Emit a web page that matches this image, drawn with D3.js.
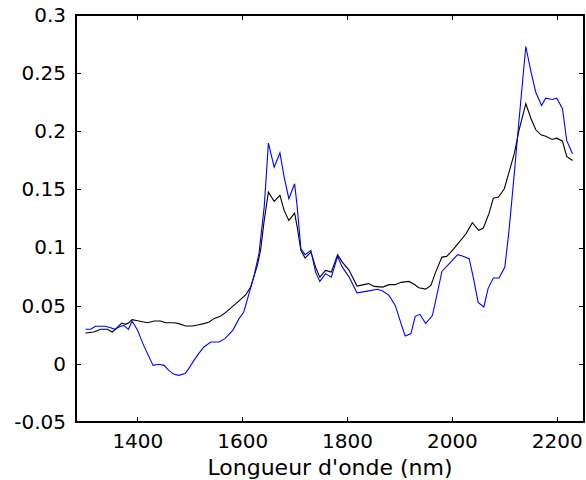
<!DOCTYPE html>
<meta charset="utf-8">
<style>
    body {
        margin: 0;
        background-color: #fff;
    }
    .axis text {
        font: 20px "DejaVu Sans", sans-serif;
        fill: #000;
    }
    .axis line {
        stroke: #000;
        stroke-width: 1px;
        shape-rendering: crispEdges;
    }
    .frame {
        fill: none;
        stroke: #000;
        stroke-width: 2px;
        shape-rendering: crispEdges;
    }
    .line {
        fill: none;
        stroke-width: 1.1px;
    }
    .x-label {
        font: 22px "DejaVu Sans", sans-serif;
        text-anchor: middle;
    }
</style>
<body>
<svg width="586" height="480"></svg>
<script src="https://d3js.org/d3.v7.min.js"></script>
<script>
    // wavelengths (nm) and values
    var blackWl = [1301, 1317, 1330, 1343, 1352, 1358, 1370, 1378, 1383, 1390, 1403, 1419, 1432, 1444, 1454, 1470,
        1479, 1492, 1505, 1517, 1527, 1537, 1546, 1559, 1568, 1588, 1607, 1616, 1622, 1629, 1635, 1642, 1650, 1661,
        1672, 1680, 1689, 1700, 1705, 1712, 1720, 1731, 1740, 1748, 1759, 1770, 1782, 1791, 1804, 1819, 1841, 1852,
        1868, 1880, 1892, 1903, 1918, 1928, 1937, 1950, 1960, 1969, 1981, 1990, 2001, 2014, 2027, 2039, 2051, 2060,
        2071, 2079, 2089, 2100, 2109, 2119, 2128, 2141, 2151, 2160, 2170, 2179, 2191, 2200, 2211, 2219, 2230];
    var blackVal = [0.0265, 0.0274, 0.0297, 0.0297, 0.0274, 0.0297, 0.0351, 0.034, 0.0351, 0.038, 0.0368, 0.0354,
        0.0368, 0.0368, 0.0354, 0.0354, 0.0346, 0.0325, 0.0325, 0.0337, 0.0346, 0.036, 0.0389, 0.0411, 0.044, 0.0518,
        0.0595, 0.066, 0.0746, 0.0847, 0.0976, 0.1234, 0.1477, 0.1397, 0.1449, 0.132, 0.1234, 0.1296, 0.1176, 0.0976,
        0.091, 0.0961, 0.0832, 0.0746, 0.0804, 0.0789, 0.0939, 0.0875, 0.0804, 0.0669, 0.069, 0.0666, 0.066, 0.0681,
        0.0681, 0.0701, 0.0709, 0.0684, 0.0655, 0.0643, 0.0675, 0.0789, 0.0918, 0.0924, 0.0976, 0.1047, 0.1119,
        0.1214, 0.1148, 0.1168, 0.1296, 0.1425, 0.1434, 0.1506, 0.1649, 0.1807, 0.2007, 0.2237, 0.2108, 0.2013,
        0.197, 0.1958, 0.193, 0.1941, 0.1915, 0.1784, 0.1749];

    var blueWl = [1301, 1311, 1320, 1339, 1349, 1357, 1368, 1374, 1383, 1390, 1400, 1412, 1430, 1441, 1451, 1460,
        1470, 1479, 1491, 1498, 1508, 1517, 1527, 1540, 1556, 1567, 1582, 1594, 1603, 1613, 1622, 1632, 1642, 1650,
        1661, 1672, 1680, 1689, 1700, 1705, 1712, 1720, 1731, 1740, 1748, 1759, 1770, 1782, 1791, 1804, 1819, 1836,
        1858, 1868, 1880, 1892, 1903, 1911, 1922, 1930, 1939, 1950, 1963, 1981, 1995, 2011, 2020, 2033, 2042, 2050,
        2061, 2069, 2079, 2090, 2101, 2109, 2119, 2128, 2135, 2141, 2151, 2160, 2171, 2179, 2191, 2200, 2211, 2219, 2230];
    var blueVal = [0.0297, 0.0297, 0.0323, 0.0323, 0.0311, 0.0297, 0.0323, 0.0331, 0.0297, 0.0368, 0.0294, 0.0159,
        -0.0013, -0.0004, -0.0013, -0.0056, -0.009, -0.0099, -0.0084, -0.0041, 0.003, 0.0088, 0.0145, 0.0188, 0.0188,
        0.0217, 0.0288, 0.0389, 0.0446, 0.0604, 0.0746, 0.0948, 0.1348, 0.1898, 0.1692, 0.1816, 0.1606, 0.142, 0.1549,
        0.1348, 0.099, 0.0939, 0.0976, 0.0789, 0.0709, 0.0776, 0.0746, 0.0924, 0.0832, 0.0746, 0.0611, 0.0623, 0.0641,
        0.0626, 0.0589, 0.0503, 0.0346, 0.0239, 0.026, 0.0409, 0.0426, 0.0346, 0.0417, 0.0795, 0.0862, 0.0939, 0.0927,
        0.0905, 0.0718, 0.0529, 0.0489, 0.0647, 0.0738, 0.0738, 0.0832, 0.1148, 0.1635, 0.2093, 0.2437, 0.2729,
        0.2508, 0.2336, 0.2222, 0.2285, 0.2274, 0.2285, 0.2194, 0.1921, 0.1807];

    var xTicks = [1400, 1600, 1800, 2000, 2200];
    var yTicks = [-0.05, 0, 0.05, 0.1, 0.15, 0.2, 0.25, 0.3];

    var svg = d3.select("svg"),
        margin = {top: 15, right: 2, bottom: 58, left: 76},
        width = +svg.attr("width") - margin.left - margin.right,
        height = +svg.attr("height") - margin.top - margin.bottom;

    var x = d3.scaleLinear().domain([1283, 2252]).range([0, width]);
    var y = d3.scaleLinear().domain([-0.05, 0.3]).range([height, 0]);

    var g = svg.append("g")
        .attr("transform", "translate(" + margin.left + "," + margin.top + ")");

    var fmt = function(d) { return String(+d.toFixed(2)); };

    g.append("g")
        .attr("class", "axis axis--x")
        .attr("transform", "translate(0," + height + ")")
        .call(d3.axisBottom(x).tickValues(xTicks).tickSize(-5).tickPadding(12).tickFormat(d3.format("d")));
    g.append("g")
        .attr("class", "axis")
        .call(d3.axisTop(x).tickValues(xTicks).tickSize(-5).tickFormat(""));
    g.append("g")
        .attr("class", "axis axis--y")
        .call(d3.axisLeft(y).tickValues(yTicks).tickSize(-5).tickPadding(10).tickFormat(fmt));
    g.append("g")
        .attr("class", "axis")
        .attr("transform", "translate(" + width + ",0)")
        .call(d3.axisRight(y).tickValues(yTicks).tickSize(-5).tickFormat(""));

    g.selectAll(".domain").remove();

    var line = d3.line()
        .x(function(d) { return x(d[0]); })
        .y(function(d) { return y(d[1]); });

    g.append("path")
        .datum(d3.zip(blackWl, blackVal))
        .attr("class", "line")
        .attr("stroke", "#000")
        .attr("d", line);

    g.append("path")
        .datum(d3.zip(blueWl, blueVal))
        .attr("class", "line")
        .attr("stroke", "#0000ff")
        .attr("d", line);

    g.append("rect")
        .attr("class", "frame")
        .attr("width", width)
        .attr("height", height);

    svg.append("text")
        .attr("class", "x-label")
        .attr("x", margin.left + width / 2)
        .attr("y", 475)
        .text("Longueur d'onde (nm)");
</script>
</body>
